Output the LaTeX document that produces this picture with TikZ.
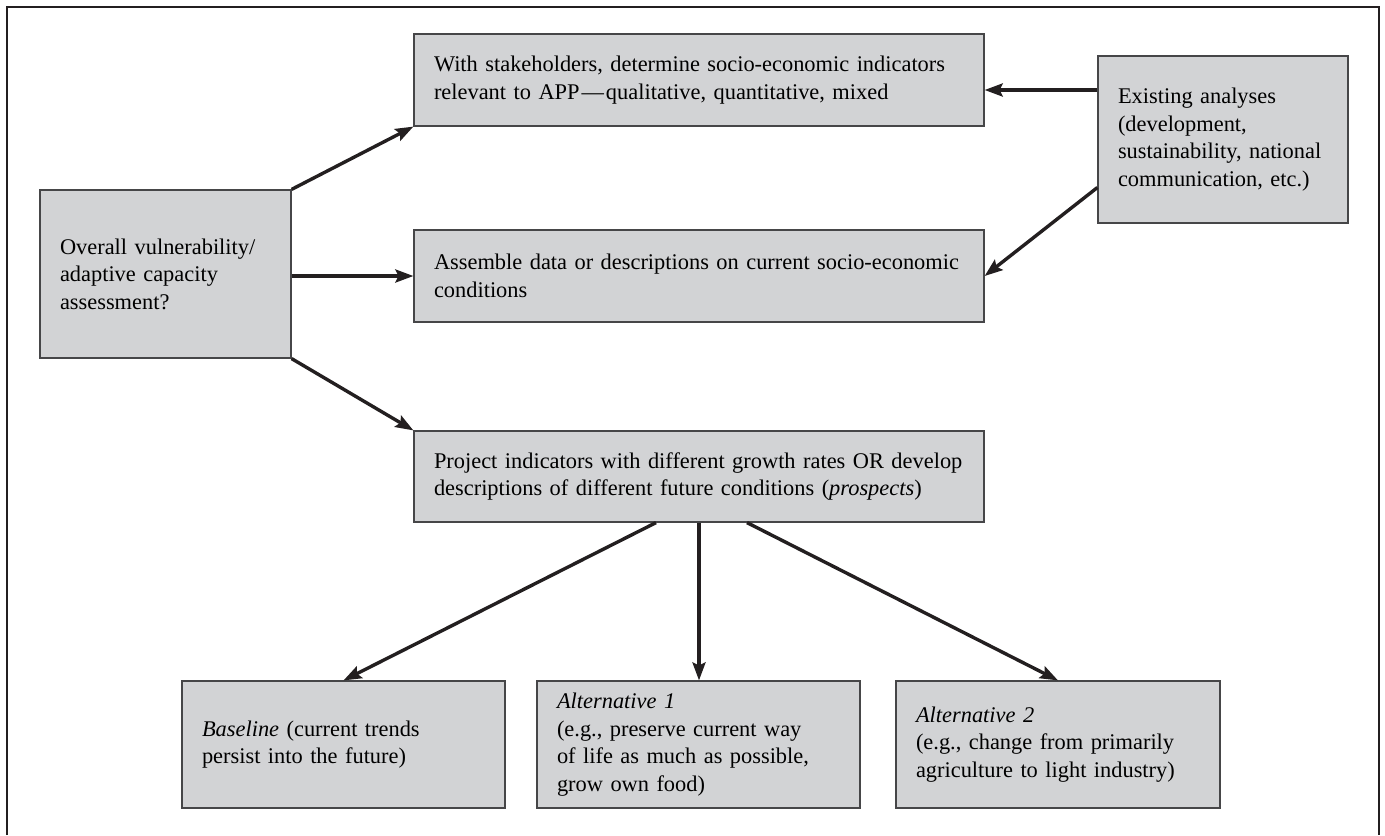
\documentclass[tikz,border=0pt]{standalone}
\usepackage{fontspec}
\setmainfont{Liberation Serif}
\usetikzlibrary{arrows.meta}
\definecolor{boxgray}{RGB}{210,211,213}
\definecolor{boxline}{RGB}{70,70,72}
\definecolor{inkblack}{RGB}{35,31,32}
\begin{document}
\begin{tikzpicture}[x=0.5pt, y=-0.5pt, font=\fontsize{11.2}{13.8}\selectfont,
  stepbox/.style={draw=boxline, fill=boxgray, line width=0.6pt, align=left,
    inner xsep=10pt, inner ysep=0pt},
  flow/.style={draw=inkblack, line width=1.7pt,
    -{Stealth[length=9pt, width=6.5pt, inset=1.5pt]}}]
  \useasboundingbox (0,0) rectangle (1385,835);
  \draw[inkblack, line width=1.1pt] (7,835) -- (7,7) -- (1379,7) -- (1379,835);

  \node[stepbox, text width=105.5pt, minimum height=84pt] (ovr) at (165.5,274)
    {Overall vulnerability/\\ adaptive capacity\\ assessment?};
  \node[stepbox, text width=265pt, minimum height=46pt] (ind) at (699,80)
    {With stakeholders, determine socio-economic indicators\\
     relevant to APP\kern1pt---\kern1pt qualitative, quantitative, mixed};
  \node[stepbox, text width=105pt, minimum height=83.5pt] (ext) at (1223,139.5)
    {Existing analyses\\ (development,\\ sustainability, national\\ communication, etc.)};
  \node[stepbox, text width=265pt, minimum height=46pt] (asm) at (699,276)
    {Assemble data or descriptions on current socio-economic\\ conditions};
  \node[stepbox, text width=265pt, minimum height=45.5pt] (prj) at (699,476.5)
    {Project indicators with different growth rates OR develop\\
     descriptions of different future conditions (\textit{prospects})};
  \node[stepbox, text width=141.5pt, minimum height=63.5pt] (base) at (343.5,744.5)
    {\textit{Baseline} (current trends\\ persist into the future)};
  \node[stepbox, text width=141.5pt, minimum height=63.5pt] (alt1) at (698.5,744.5)
    {\textit{Alternative 1}\\ (e.g., preserve current way\\ of life as much as possible,\\ grow own food)};
  \node[stepbox, text width=142pt, minimum height=63.5pt] (alt2) at (1058,744.5)
    {\textit{Alternative 2}\\ (e.g., change from primarily\\ agriculture to light industry)};

  \draw[flow] (ovr.north east) -- (ind.south west);
  \draw[flow] (ovr.east |- asm.west) -- (asm.west);
  \draw[flow] (ovr.south east) -- (prj.north west);
  \coordinate (indin) at ([yshift=-5pt]ind.east);
  \draw[flow] (indin -| ext.west) -- (indin);
  \draw[flow] ([yshift=-24pt]ext.west) -- (asm.east);
  \draw[flow] ([xshift=-21.5pt]prj.south) -- (base.north);
  \draw[flow] (prj.south) -- (prj.south |- alt1.north);
  \draw[flow] ([xshift=24pt]prj.south) -- (alt2.north);
\end{tikzpicture}
\end{document}
